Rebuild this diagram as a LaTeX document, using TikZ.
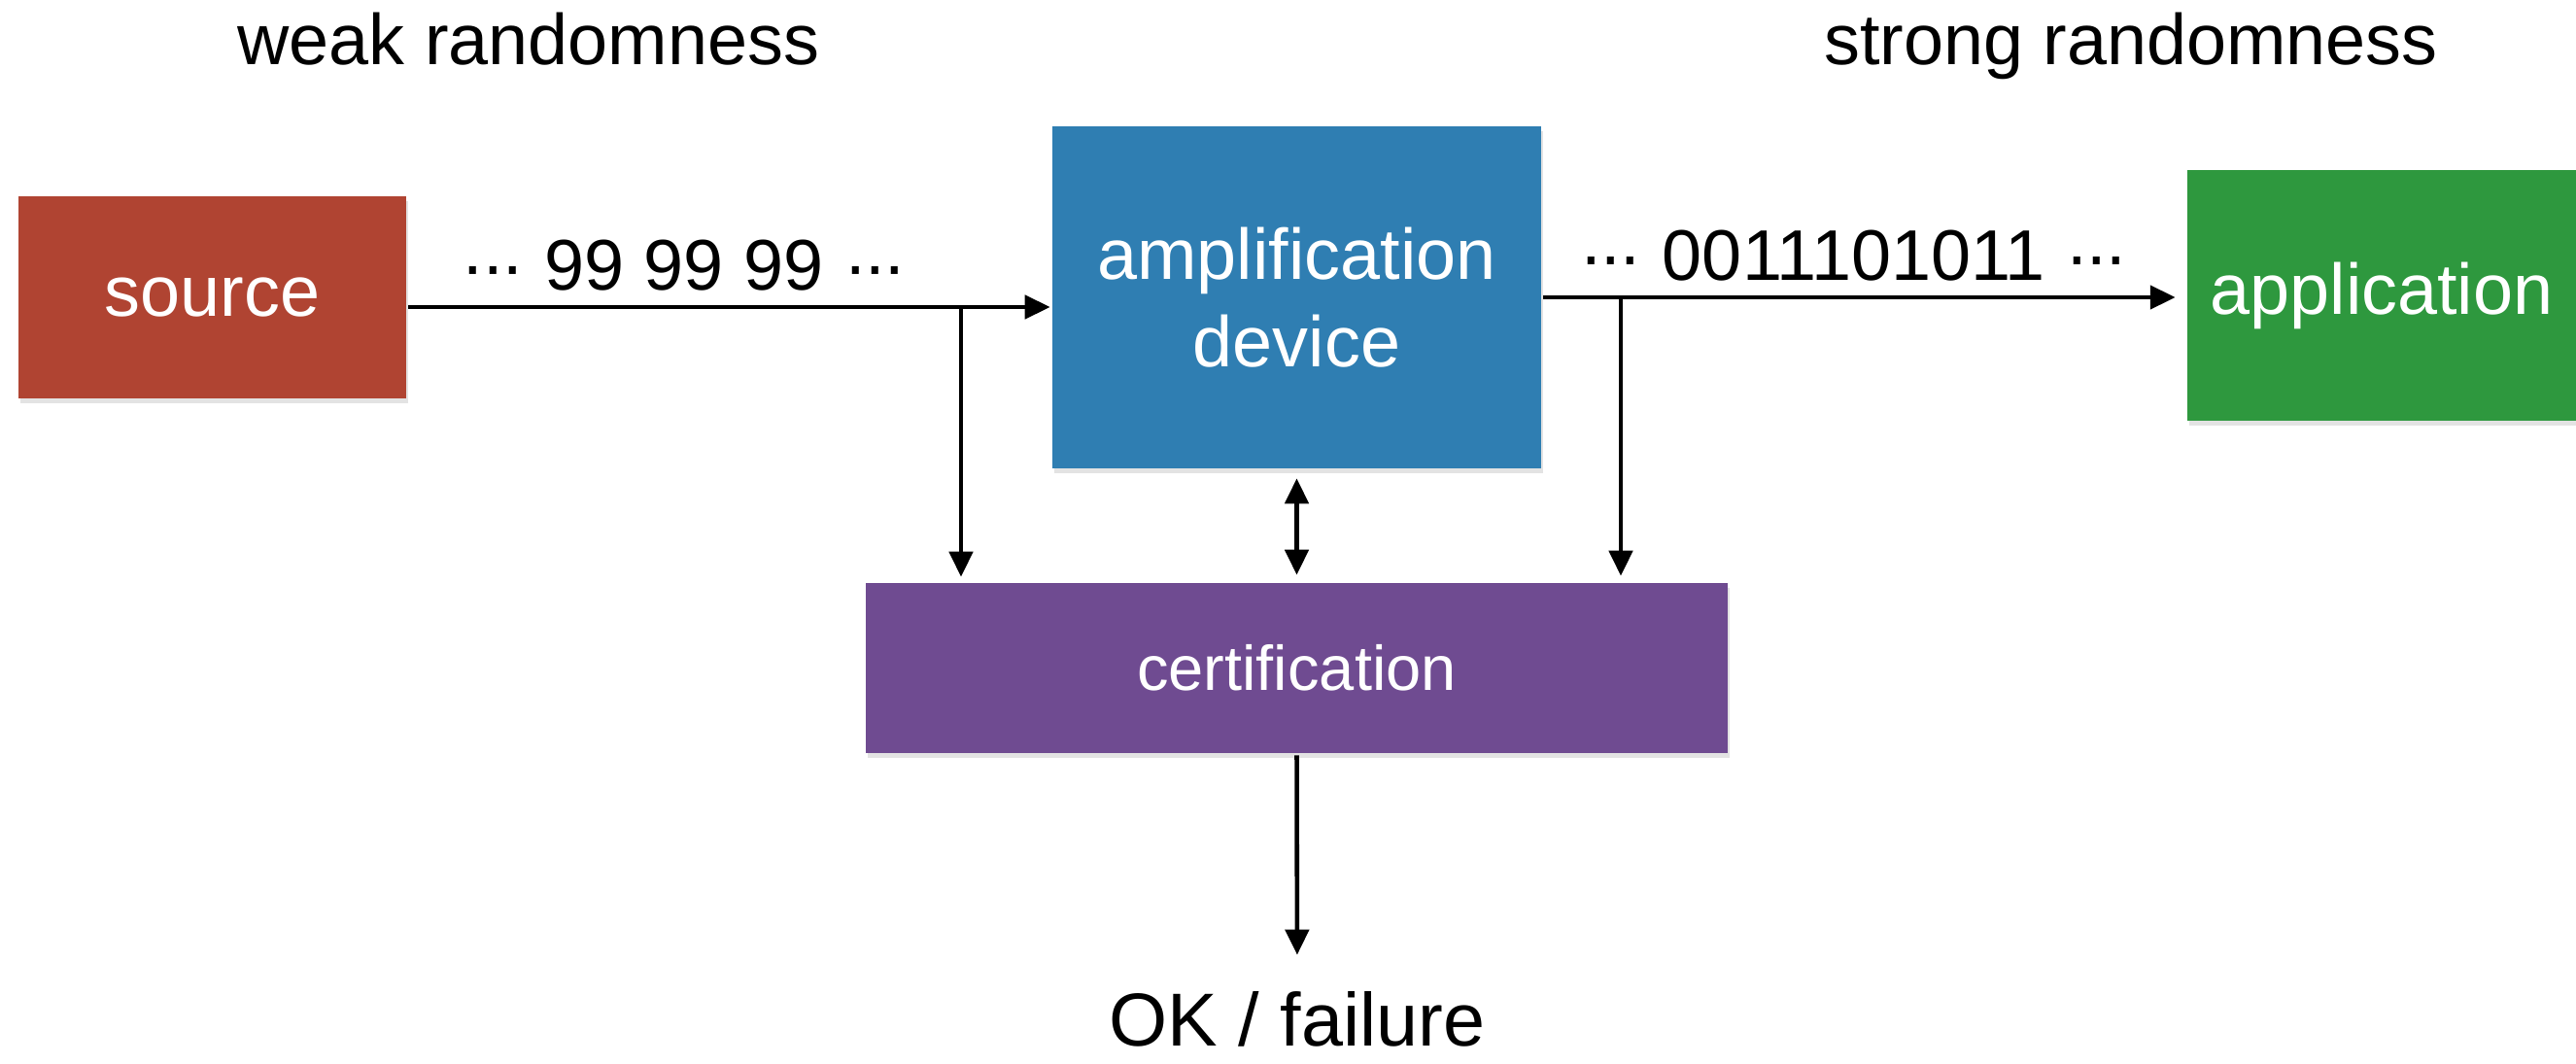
\documentclass[tikz,border=0pt]{standalone}
\usepackage{fontspec}
\setmainfont{Liberation Sans}
\usetikzlibrary{arrows.meta,shadows}

\definecolor{srcred}{RGB}{176,68,50}
\definecolor{ampblue}{RGB}{47,126,178}
\definecolor{appgreen}{RGB}{46,152,62}
\definecolor{certpurple}{RGB}{111,75,145}

% puntini stretti
\newcommand{\dotsrow}{·\kern-0.06em·\kern-0.06em·}

\begin{document}
\begin{tikzpicture}[>={Triangle[length=0.26cm,width=0.24cm]}, line width=1.3pt]

    % Stili dei blocchi e delle scritte
    \tikzset{box/.style={rectangle, inner sep=0pt, align=center, text=white,
                 font=\fontsize{21}{25.6}\selectfont,
                 drop shadow={shadow xshift=0.02cm, shadow yshift=-0.05cm, opacity=0.22}},
             lbl/.style={inner sep=0pt, font=\fontsize{21}{25.6}\selectfont}}

    \useasboundingbox (0,0) rectangle (26.51,-10.94);
    \clip (0,0) rectangle (26.51,-10.94);

    % Titoli
    \node[lbl, anchor=base] (weak) at (5.44,-0.67) {weak randomness};
    \node[lbl, anchor=base] (strong) at (21.93,-0.67) {strong randomness};

    % Blocchi principali
    \node[box, fill=srcred, minimum width=3.99cm, minimum height=2.08cm] (src) at (2.185,-3.06) {source};
    \node[box, fill=ampblue, minimum width=5.03cm, minimum height=3.52cm] (amp) at (13.345,-3.06) {amplification\\device};
    \node[box, fill=appgreen, minimum width=4.0cm, minimum height=2.58cm] (app) at (24.51,-3.04) {application};
    \node[box, fill=certpurple, minimum width=8.87cm, minimum height=1.75cm,
          font=\fontsize{18.5}{22}\selectfont] (cert) at (13.345,-6.875) {certification};

    % Sequenze sulle frecce
    \node[lbl, anchor=base] (weakbits) at (7.04,-2.98) {\dotsrow{} 99 99 99 \dotsrow};
    \node[lbl, anchor=base] (strongbits) at (19.08,-2.88) {\dotsrow{} 0011101011 \dotsrow};

    % Esito
    \node[lbl, anchor=base, font=\fontsize{22}{26}\selectfont] (ok) at (13.35,-10.76) {OK / failure};

    % Percorso principale
    \draw[->] (src.east |- 0,-3.16) -- (amp.west |- 0,-3.16);
    \draw[->, shorten >=0.1cm] (amp.east) -- (amp.east -| app.west);

    % Diramazioni verso la certificazione
    \coordinate (tapin) at (9.89,-3.16);
    \coordinate (tapout) at (16.68,-3.06);
    \draw[->, shorten >=0.04cm] (tapin) -- (tapin |- cert.north);
    \draw[->, shorten >=0.05cm] (tapout) -- (tapout |- cert.north);
    \draw[<->, shorten <=0.08cm, shorten >=0.06cm] (amp.south) -- (cert.north);

    % Uscita
    \draw[->, shorten >=0.35cm] (cert.south) -- (ok.north);

\end{tikzpicture}
\end{document}
